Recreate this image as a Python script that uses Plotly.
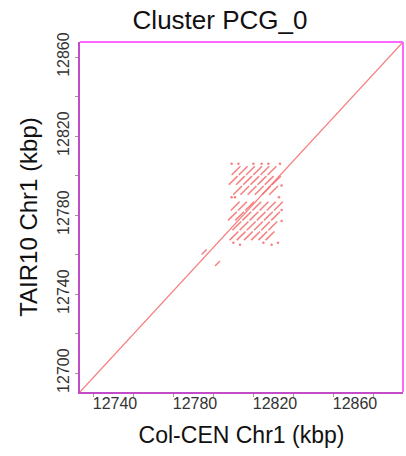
import plotly.graph_objects as go

# ---------------- data (kbp) ----------------
x_range = [12722.5, 12884.0]
y_range = [12690.4, 12867.6]

main_x = [12722.5, 12884.0]
main_y = [12690.4, 12867.6]

# small off-diagonal alignments
small_x0 = [12783.3, 12790.0]
small_y0 = [12760.0, 12754.2]
small_x1 = [12785.8, 12792.5]
small_y1 = [12762.5, 12756.7]

# tandem-repeat block: rows (y centre) and x centres of segments
repeat_len = 4.4
repeat_row_y = [12802.5, 12797.5, 12792.5, 12784.5, 12779.5, 12774.5, 12769.5]
repeat_x_centres = [
    [12800.5, 12804.1, 12807.7, 12811.3, 12814.9, 12818.5],
    [12799.1, 12802.7, 12806.3, 12809.9, 12813.5, 12817.1, 12820.7],
    [12801.3, 12804.9, 12808.5, 12812.1, 12815.7, 12819.3],
    [12800.1, 12803.7, 12807.3, 12810.9, 12814.5, 12818.1, 12821.7],
    [12798.7, 12802.3, 12805.9, 12809.5, 12813.1, 12816.7, 12820.3],
    [12800.9, 12804.5, 12808.1, 12811.7, 12815.3, 12818.9],
    [12799.5, 12803.1, 12806.7, 12810.3, 12813.9, 12817.5],
]

speck_x = [12798.3, 12801.7, 12809.2, 12813.3, 12816.7, 12822.5,
           12798.3, 12800.0, 12822.0,
           12799.2, 12802.5, 12814.2, 12818.3, 12821.5,
           12823.3, 12823.3, 12823.3]
speck_y = [12806.0, 12806.0, 12806.0, 12806.0, 12806.0, 12806.0,
           12789.0, 12789.0, 12789.0,
           12766.0, 12765.0, 12766.0, 12765.0, 12766.0,
           12795.0, 12782.5, 12777.0]

x_ticks = [12740, 12780, 12820, 12860]
x_minor = [12729, 12749, 12769, 12789, 12809, 12829, 12849, 12869]
y_ticks = [12700, 12740, 12780, 12820, 12860]
y_minor = [12720, 12760, 12800, 12840]

title = "Cluster PCG_0"
x_title = "Col-CEN Chr1 (kbp)"
y_title = "TAIR10 Chr1 (kbp)"

# ---------------- build ----------------
line_col = "rgba(245,105,105,0.85)"

seg_x, seg_y = [], []
for x0, y0, x1, y1 in zip(small_x0, small_y0, small_x1, small_y1):
    seg_x += [x0, x1, None]
    seg_y += [y0, y1, None]
for yc, xcs in zip(repeat_row_y, repeat_x_centres):
    for xc in xcs:
        seg_x += [xc - repeat_len / 2, xc + repeat_len / 2, None]
        seg_y += [yc - repeat_len / 2, yc + repeat_len / 2, None]

fig = go.Figure()
fig.add_trace(go.Scatter(x=main_x, y=main_y, mode="lines",
                         line=dict(color=line_col, width=1.2), hoverinfo="skip"))
fig.add_trace(go.Scatter(x=seg_x, y=seg_y, mode="lines",
                         line=dict(color=line_col, width=1.5), hoverinfo="skip"))
fig.add_trace(go.Scatter(x=speck_x, y=speck_y, mode="markers",
                         marker=dict(color=line_col, size=2.5), hoverinfo="skip"))

font_family = "Liberation Sans, Arial, sans-serif"

fig.update_layout(
    width=406, height=456,
    margin=dict(l=80, r=3, t=42, b=64),
    paper_bgcolor="white", plot_bgcolor="white",
    showlegend=False,
    font=dict(family=font_family, color="#222222"),
    title=dict(text=title, x=220 / 406, xref="container", xanchor="center",
               y=1 - 20 / 456, yref="container", yanchor="middle",
               font=dict(size=26, color="#111111")),
)
fig.update_xaxes(
    range=x_range, showgrid=False, zeroline=False,
    tickvals=x_ticks, ticktext=[str(v) for v in x_ticks],
    ticks="", tickfont=dict(size=16, color="#333333"), ticklabelstandoff=-4,
    minor=dict(tickvals=x_minor, ticks="outside", ticklen=3, tickcolor="#999999", showgrid=False),
    title=dict(text=x_title, font=dict(size=23, color="#111111"), standoff=16),
    showline=True, linecolor="#c24cc8", linewidth=2,
)
fig.update_yaxes(
    range=y_range, showgrid=False, zeroline=False,
    tickvals=y_ticks, ticktext=[str(v) for v in y_ticks], tickangle=-90,
    ticks="outside", ticklen=3, tickcolor="#999999",
    tickfont=dict(size=16, color="#333333"),
    minor=dict(tickvals=y_minor, ticks="outside", ticklen=3, tickcolor="#999999", showgrid=False),
    title=dict(text=y_title, font=dict(size=24, color="#111111"), standoff=10),
    showline=True, linecolor="#c24cc8", linewidth=2,
)
# top and right frame edges
fig.add_shape(type="line", xref="paper", yref="paper", x0=0, x1=1, y0=1, y1=1,
              line=dict(color="#ff66ff", width=2))
fig.add_shape(type="line", xref="paper", yref="paper", x0=1, x1=1, y0=0, y1=1,
              line=dict(color="#ff66ff", width=2))

fig.write_html("out.html")
